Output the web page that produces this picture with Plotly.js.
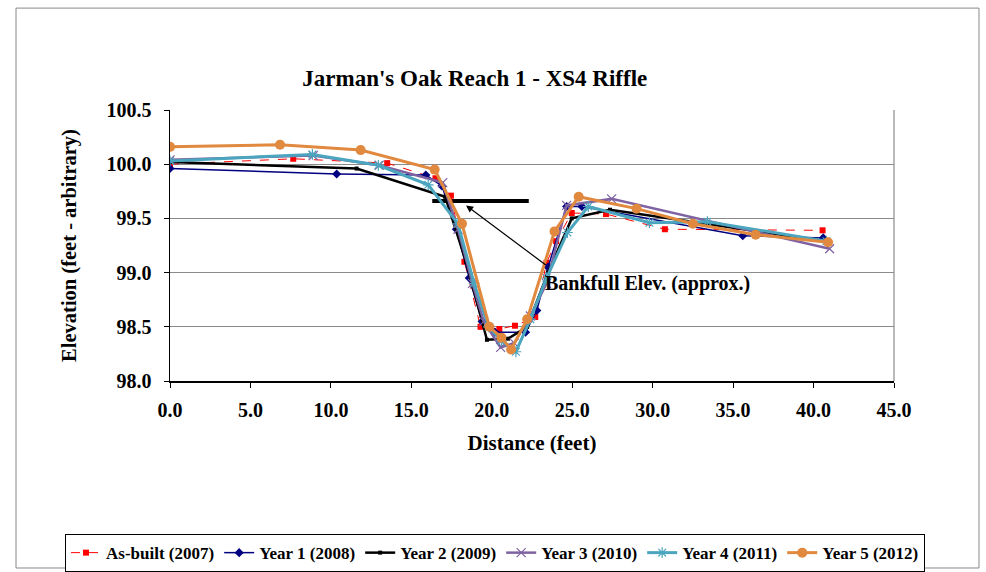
<!DOCTYPE html>
<html>
<head>
<meta charset="utf-8">
<script src="https://cdn.plot.ly/plotly-3.0.1.min.js"></script>
<style>html,body{margin:0;padding:0;background:#fff;}#chart{width:986px;height:572px;}</style>
</head>
<body>
<div id="chart"></div>
<script>
// Data
const asbuiltX = [0, 7.66, 13.5, 16.5, 17.46, 18.3, 19.3, 20.47, 21.44, 22.7, 23.4, 24.0, 24.97, 27.1, 30.76, 40.56];
const asbuiltY = [100.00, 100.05, 100.01, 99.87, 99.71, 99.10, 98.50, 98.48, 98.51, 98.59, 99.09, 99.29, 99.55, 99.54, 99.40, 99.39];

const year1X = [0, 10.36, 15.9, 16.9, 17.8, 18.6, 19.4, 20.2, 22.1, 22.8, 23.5, 24.65, 25.6, 35.6, 40.6];
const year1Y = [99.96, 99.91, 99.90, 99.80, 99.40, 98.95, 98.55, 98.45, 98.45, 98.65, 99.05, 99.61, 99.61, 99.34, 99.32];

const year2X = [0, 11.6, 17.1, 18.4, 19.7, 21.0, 22.2, 23.5, 24.97, 27.35, 40.7];
const year2Y = [100.02, 99.96, 99.70, 99.10, 98.38, 98.39, 98.50, 99.00, 99.50, 99.58, 99.29];

const year3X = [0, 8.9, 13.0, 16.95, 17.9, 18.8, 19.5, 20.55, 21.4, 22.4, 23.4, 24.65, 27.45, 41.0];
const year3Y = [100.04, 100.08, 99.99, 99.83, 99.40, 98.90, 98.55, 98.31, 98.35, 98.60, 98.90, 99.62, 99.68, 99.22];

const year4X = [0, 8.85, 12.95, 16.05, 17.9, 18.9, 19.8, 20.6, 21.5, 22.4, 23.4, 24.7, 26.0, 29.8, 33.4, 40.8];
const year4Y = [100.03, 100.09, 99.99, 99.81, 99.45, 98.90, 98.50, 98.37, 98.27, 98.57, 98.95, 99.37, 99.61, 99.46, 99.47, 99.29];

const year5X = [0, 6.84, 11.85, 16.45, 18.15, 19.85, 20.6, 21.2, 22.2, 23.9, 25.4, 29.0, 32.5, 36.4, 40.9];
const year5Y = [100.16, 100.18, 100.13, 99.95, 99.45, 98.50, 98.40, 98.29, 98.57, 99.38, 99.70, 99.59, 99.45, 99.35, 99.28];

const bankfullX = [16.3, 22.3];
const bankfullY = [99.66, 99.66];

const seriesNames = ["As-built (2007)", "Year 1 (2008)", "Year 2 (2009)", "Year 3 (2010)", "Year 4 (2011)", "Year 5 (2012)"];
const xTicks = [0, 5, 10, 15, 20, 25, 30, 35, 40, 45];
const xTickText = ["0.0", "5.0", "10.0", "15.0", "20.0", "25.0", "30.0", "35.0", "40.0", "45.0"];
const yTicks = [98.0, 98.5, 99.0, 99.5, 100.0, 100.5];
const yTickText = ["98.0", "98.5", "99.0", "99.5", "100.0", "100.5"];

const serif = "Liberation Serif, Times New Roman, serif";

const traces = [
  {x: bankfullX, y: bankfullY, mode: "lines", line: {color: "#000", width: 4}, showlegend: false, hoverinfo: "skip"},
  {x: asbuiltX, y: asbuiltY, name: seriesNames[0], mode: "lines+markers",
   line: {color: "#FF0000", width: 1, dash: "dash"}, marker: {symbol: "square", size: 6, color: "#FF0000"}},
  {x: year1X, y: year1Y, name: seriesNames[1], mode: "lines+markers",
   line: {color: "#000080", width: 1.5}, marker: {symbol: "diamond", size: 7, color: "#000080"}},
  {x: year2X, y: year2Y, name: seriesNames[2], mode: "lines+markers",
   line: {color: "#000000", width: 2.5}, marker: {symbol: "square", size: 4, color: "#000000"}},
  {x: year3X, y: year3Y, name: seriesNames[3], mode: "lines+markers",
   line: {color: "#7F62A2", width: 2.5}, marker: {symbol: "x-thin-open", size: 9, color: "#7F62A2", line: {color: "#7F62A2", width: 1.2}}},
  {x: year4X, y: year4Y, name: seriesNames[4], mode: "lines+markers",
   line: {color: "#4BA5BE", width: 3}, marker: {symbol: "asterisk-open", size: 9, color: "#4BA5BE", line: {color: "#4BA5BE", width: 1.2}}},
  {x: year5X, y: year5Y, name: seriesNames[5], mode: "lines+markers",
   line: {color: "#E0893F", width: 3}, marker: {symbol: "circle", size: 10, color: "#E0893F"}}
];

const bold = "bold";
const layout = {
  width: 986, height: 572,
  margin: {l: 170, r: 92, t: 110, b: 191, autoexpand: false},
  paper_bgcolor: "#fff", plot_bgcolor: "#fff",
  font: {family: serif, color: "#000"},
  title: {text: "Jarman's Oak Reach 1 - XS4 Riffle", font: {family: serif, size: 23, weight: bold, color: "#000"},
          x: 0.421, xanchor: "center", y: 0.864, yanchor: "middle", xref: "paper", yref: "container"},
  xaxis: {range: [0, 45], tickvals: xTicks, ticktext: xTickText, showgrid: false, zeroline: false, automargin: false,
          showline: true, linecolor: "#000", linewidth: 1.5, ticks: "outside", ticklen: 5, tickcolor: "#000",
          ticklabelstandoff: 5,
          tickfont: {family: serif, size: 20, weight: bold, color: "#000"},
          title: {text: "Distance (feet)", font: {family: serif, size: 21, weight: bold, color: "#000"}, standoff: 16}},
  yaxis: {range: [98.0, 100.5], tickvals: yTicks, ticktext: yTickText, showgrid: true, gridcolor: "#8a8a8a", gridwidth: 1.2,
          zeroline: false, showline: true, linecolor: "#000", linewidth: 1.5, ticks: "outside", ticklen: 5, tickcolor: "#000",
          ticklabelstandoff: 8, automargin: false,
          tickfont: {family: serif, size: 20, weight: bold, color: "#000"},
          title: {text: "Elevation (feet - arbitrary)", font: {family: serif, size: 20.5, weight: bold, color: "#000"}, standoff: 24}},
  legend: {orientation: "h", x: -0.145, xanchor: "left", y: -0.635, yanchor: "middle",
           bordercolor: "#000", borderwidth: 1, bgcolor: "#fff",
           font: {family: serif, size: 17, weight: bold, color: "#000"}, itemwidth: 30, tracegroupgap: 0},
  shapes: [
    {type: "line", xref: "paper", yref: "paper", x0: 1, x1: 1, y0: 0, y1: 1, line: {color: "#8a8a8a", width: 1.2}},
    {type: "rect", xref: "paper", yref: "paper", x0: -0.2127, x1: 1.1174, y0: -0.69, y1: 1.376, line: {color: "#888", width: 1}, layer: "below"}
  ],
  annotations: [
    {x: 18.4, y: 99.62, ax: 23.45, ay: 99.06, xref: "x", yref: "y", axref: "x", ayref: "y",
     text: "", showarrow: true, arrowhead: 2, arrowsize: 1.2, arrowwidth: 1.2, arrowcolor: "#000"},
    {x: 23.2, y: 98.9, xref: "x", yref: "y", text: "Bankfull Elev. (approx.)", showarrow: false,
     xanchor: "left", yanchor: "middle", font: {family: serif, size: 20, weight: bold, color: "#000"}}
  ]
};

Plotly.newPlot("chart", traces, layout, {displayModeBar: false, staticPlot: true});
</script>
</body>
</html>
